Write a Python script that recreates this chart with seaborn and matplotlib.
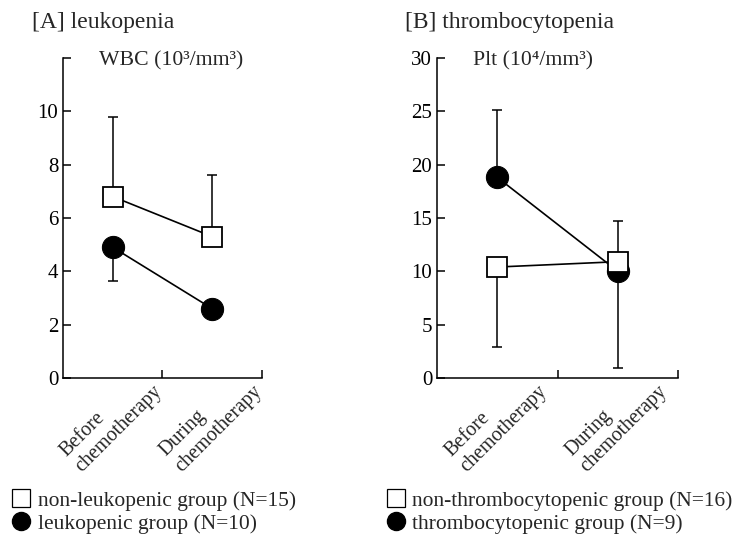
import numpy as np
import pandas as pd
import matplotlib
matplotlib.use("Agg")
import matplotlib.pyplot as plt
import matplotlib.transforms as mtrans
from matplotlib.lines import Line2D
import seaborn as sns

periods = ["Before\nchemotherapy", "During\nchemotherapy"]

# [A] WBC (10^3/mm^3)
wbc_non_mean = [6.8, 5.3]
wbc_non_up = [9.8, 7.6]
wbc_leu_mean = [4.9, 2.6]
wbc_leu_low = [3.65, 2.6]

# [B] Plt (10^4/mm^3)
plt_non_mean = [10.4, 10.9]
plt_non_err = [2.9, 14.7]      # lower end before, upper end during
plt_thr_mean = [18.8, 10.0]
plt_thr_err = [25.1, 0.9]      # upper end before, lower end during

sns.set_style("ticks")
plt.rcParams["font.family"] = ["Liberation Serif", "DejaVu Serif"]

fig = plt.figure(figsize=(7.35, 5.4), dpi=100)
axA = fig.add_axes([0.0857, 0.30, 0.2707, 0.5928])
axB = fig.add_axes([0.5946, 0.30, 0.328, 0.5928])


def draw_panel(ax, filled_mean, open_mean, ymax, yticks, ylabels):
    df = pd.DataFrame({
        "period": periods * 2,
        "value": filled_mean + open_mean,
        "group": ["filled"] * 2 + ["open"] * 2,
    })
    sns.lineplot(data=df[df.group == "filled"], x="period", y="value", ax=ax,
                 color="black", lw=1.2, marker="o", markersize=16,
                 markerfacecolor="black", markeredgecolor="black", zorder=3)
    sns.lineplot(data=df[df.group == "open"], x="period", y="value", ax=ax,
                 color="black", lw=1.2, marker="s", markersize=15,
                 markerfacecolor="white", markeredgecolor="black",
                 markeredgewidth=1.3, zorder=4)
    ax.set_xlim(-0.5, 1.5)
    ax.set_ylim(0, ymax)
    ax.set_yticks(yticks)
    ax.set_yticklabels(ylabels)
    ax.set_xticks([0.5, 1.5])
    ax.set_xticklabels(["", ""])
    ax.set_xticks([0, 1], minor=True)
    ax.set_xticklabels(periods, minor=True, rotation=45, ha="left",
                       va="top", rotation_mode="anchor",
                       multialignment="left", fontsize=14.5)
    ax.tick_params(axis="x", which="minor", length=0)
    ax.tick_params(axis="both", which="major", direction="in", length=6,
                   width=1.1, labelsize=15, colors="black")
    ax.set_xlabel("")
    ax.set_ylabel("")
    for s in ["left", "bottom"]:
        ax.spines[s].set_linewidth(1.1)
        ax.spines[s].set_color("black")
    sns.despine(ax=ax)
    off = mtrans.ScaledTranslation(-0.56, -0.64, fig.dpi_scale_trans)
    for lab in ax.get_xticklabels(minor=True):
        lab.set_transform(lab.get_transform() + off)


draw_panel(axA, wbc_leu_mean, wbc_non_mean, 12,
           [0, 2, 4, 6, 8, 10, 12], ["0", "2", "4", "6", "8", "10", ""])
draw_panel(axB, plt_thr_mean, plt_non_mean, 30,
           [0, 5, 10, 15, 20, 25, 30], ["0", "5", "10", "15", "20", "25", "30"])

# one-sided error bars
eb = dict(fmt="none", ecolor="black", elinewidth=1.1, capsize=3.5,
          capthick=1.1, zorder=2)
axA.errorbar([0, 1], wbc_non_mean,
             yerr=[[0, 0], np.subtract(wbc_non_up, wbc_non_mean)], **eb)
axA.errorbar([0], wbc_leu_mean[:1],
             yerr=[[wbc_leu_mean[0] - wbc_leu_low[0]], [0]], **eb)
axB.errorbar([0], plt_non_mean[:1],
             yerr=[[plt_non_mean[0] - plt_non_err[0]], [0]], **eb)
axB.errorbar([1], plt_non_mean[1:],
             yerr=[[0], [plt_non_err[1] - plt_non_mean[1]]], **eb)
axB.errorbar([0], plt_thr_mean[:1],
             yerr=[[0], [plt_thr_err[0] - plt_thr_mean[0]]], **eb)
axB.errorbar([1], plt_thr_mean[1:],
             yerr=[[plt_thr_mean[1] - plt_thr_err[1]], [0]], **eb)

fig.text(0.044, 0.958, "[A] leukopenia", fontsize=17, va="center")
fig.text(0.135, 0.888, "WBC (10³/mm³)", fontsize=15.7, va="center")
fig.text(0.551, 0.958, "[B] thrombocytopenia", fontsize=17, va="center")
fig.text(0.643, 0.888, "Plt (10⁴/mm³)", fontsize=15.7, va="center")

sq = Line2D([], [], marker="s", ls="none", markersize=13,
            markerfacecolor="white", markeredgecolor="black", markeredgewidth=0.9)
ci = Line2D([], [], marker="o", ls="none", markersize=13,
            markerfacecolor="black", markeredgecolor="black")
fig.legend([sq, ci], ["non-leukopenic group (N=15)",
                      "leukopenic group (N=10)"],
           loc="lower left", bbox_to_anchor=(-0.003, -0.016), frameon=False,
           fontsize=15.5, handlelength=0.8, handletextpad=0.35,
           labelspacing=0.12, borderaxespad=0.3)
fig.legend([sq, ci], ["non-thrombocytopenic group (N=16)",
                      "thrombocytopenic group (N=9)"],
           loc="lower left", bbox_to_anchor=(0.507, -0.016), frameon=False,
           fontsize=15.5, handlelength=0.8, handletextpad=0.35,
           labelspacing=0.12, borderaxespad=0.3)

fig.savefig("out.png", dpi=100, facecolor="white")
